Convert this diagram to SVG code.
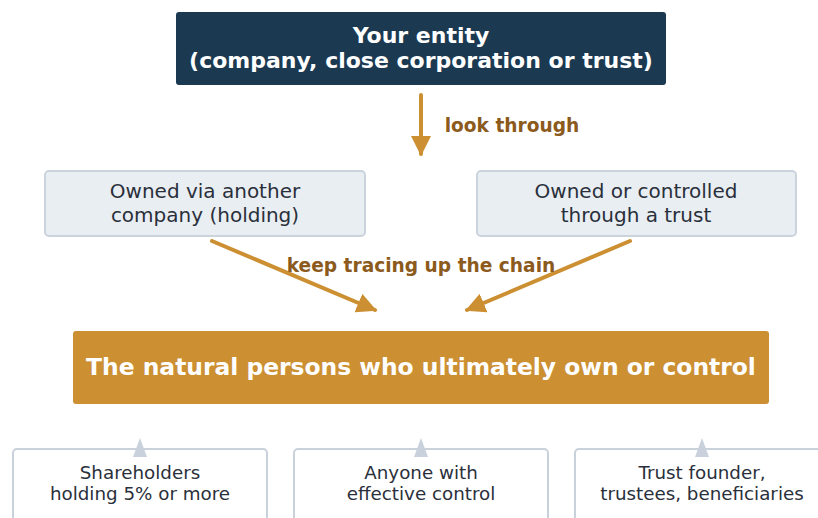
<svg xmlns="http://www.w3.org/2000/svg" width="818" height="518" viewBox="0 0 818 518">
  <defs>
    <marker id="arrow-gold" viewBox="0 0 10 10" refX="9" refY="5" markerWidth="5" markerHeight="5" markerUnits="strokeWidth" orient="auto">
      <path d="M0,0 L10,5 L0,10 Z" fill="#cc9033"/>
    </marker>
    <style>
      text { font-family: "DejaVu Sans", "Liberation Sans", sans-serif; text-anchor: middle; }
      .dark { fill: #1b3a52; }
      .title { fill: #ffffff; font-weight: bold; font-size: 22px; }
      .mid { fill: #e9eef3; stroke: #cbd3dc; stroke-width: 2; }
      .midtxt { fill: #2a303b; font-size: 20px; }
      .gold { fill: #cc9033; }
      .goldtxt { fill: #ffffff; font-weight: bold; font-size: 23.4px; }
      .leaf { fill: #ffffff; stroke: #c9d2db; stroke-width: 2; }
      .leaftxt { fill: #2a303b; font-size: 18.3px; }
      .edge { stroke: #cc9033; stroke-width: 4; fill: none; stroke-linecap: round; }
      .lbl { fill: #8b5a1c; font-weight: bold; font-size: 18.6px; }
      .tip { fill: #c9d2dc; }
    </style>
  </defs>

  <g id="entity">
    <rect class="dark" x="176" y="12" width="490" height="73" rx="3"/>
    <text class="title" x="421" y="43">Your entity</text>
    <text class="title" x="421" y="68">(company, close corporation or trust)</text>
  </g>

  <g id="holding">
    <rect class="mid" x="45" y="171" width="320" height="65" rx="4"/>
    <text class="midtxt" x="205" y="198">Owned via another</text>
    <text class="midtxt" x="205" y="222">company (holding)</text>
  </g>

  <g id="trust">
    <rect class="mid" x="477" y="171" width="319" height="65" rx="4"/>
    <text class="midtxt" x="636" y="198">Owned or controlled</text>
    <text class="midtxt" x="636" y="222">through a trust</text>
  </g>

  <g id="persons">
    <rect class="gold" x="73" y="331" width="696" height="73" rx="3"/>
    <text class="goldtxt" x="421" y="375">The natural persons who ultimately own or control</text>
  </g>

  <g id="shareholders">
    <rect class="leaf" x="13" y="449" width="254" height="80" rx="4"/>
    <text class="leaftxt" x="140" y="479">Shareholders</text>
    <text class="leaftxt" x="140" y="500">holding 5% or more</text>
  </g>

  <g id="control">
    <rect class="leaf" x="294" y="449" width="254" height="80" rx="4"/>
    <text class="leaftxt" x="421" y="479">Anyone with</text>
    <text class="leaftxt" x="421" y="500">effective control</text>
  </g>

  <g id="beneficiaries">
    <rect class="leaf" x="575" y="449" width="254" height="80" rx="4"/>
    <text class="leaftxt" x="702" y="479">Trust founder,</text>
    <text class="leaftxt" x="702" y="500">trustees, beneficiaries</text>
  </g>

  <g id="connectors">
    <line class="edge" x1="421" y1="95" x2="421" y2="154" marker-end="url(#arrow-gold)"/>
    <line class="edge" x1="212" y1="241" x2="375" y2="310" marker-end="url(#arrow-gold)"/>
    <line class="edge" x1="630" y1="241" x2="467" y2="310" marker-end="url(#arrow-gold)"/>
    <text class="lbl" x="512" y="132">look through</text>
    <text class="lbl" x="421" y="272">keep tracing up the chain</text>
    <path class="tip" d="M140,438 L147,457 L133,457 Z"/>
    <path class="tip" d="M421,438 L428,457 L414,457 Z"/>
    <path class="tip" d="M702,438 L709,457 L695,457 Z"/>
  </g>
</svg>
